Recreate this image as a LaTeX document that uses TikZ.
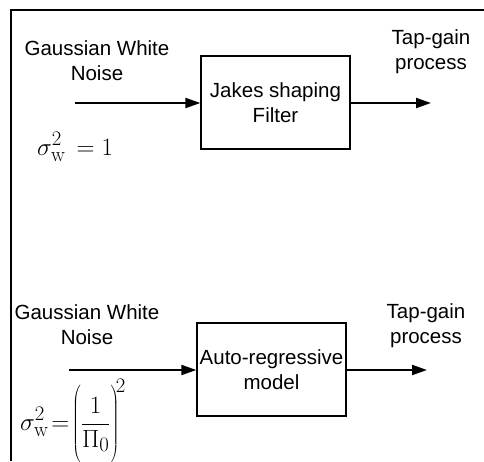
\documentclass[tikz,border=0pt]{standalone}
\usepackage[no-math]{fontspec}
\setmainfont{Liberation Sans}
\usetikzlibrary{arrows.meta}
\begin{document}
\begin{tikzpicture}[x=1pt,y=1pt,
  lbl/.style={align=center,font=\fontsize{20.5}{25}\selectfont,inner sep=0pt},
  blockbox/.style={draw,line width=1.3pt,minimum width=149pt,minimum height=93pt,inner sep=0pt,align=center,font=\fontsize{20.5}{25}\selectfont},
  sig/.style={arrows={-Triangle[length=15pt,width=10pt]},line width=2pt},
  formula/.style={inner sep=0pt,font=\fontsize{29}{33}\selectfont}]
\useasboundingbox (0,0) rectangle (484,-461);
% frame
\draw[line width=1.5pt] (11,-461) -- (11,-10) -- (484,-10);
% top chain
\node[blockbox] (box1) at (275.5,-102.5) {Jakes shaping\\Filter};
\coordinate (in1) at (75,-103);
\coordinate (out1) at (431,-103);
\draw[sig] (in1) -- (in1 -| box1.west);
\draw[sig] (box1.east |- out1) -- (out1);
\node[lbl] (gwn1) at (97,-61) {Gaussian White\\Noise};
\node[lbl] (tap1) at (431,-52) {Tap-gain\\process};
\node[formula,anchor=base west] (f1) at (37,-155) {$\sigma_{\mathrm{w}}^{2}\,=1$};
% bottom chain
\node[blockbox] (box2) at (271.5,-369.5) {Auto-regressive\\model};
\coordinate (in2) at (69,-370);
\coordinate (out2) at (427,-370);
\draw[sig] (in2) -- (in2 -| box2.west);
\draw[sig] (box2.east |- out2) -- (out2);
\node[lbl] (gwn2) at (87,-325) {Gaussian White\\Noise};
\node[lbl] (tap2) at (426,-325.5) {Tap-gain\\process};
\node[formula,anchor=base west] (f2) at (20,-430) {$\sigma_{\mathrm{w}}^{2}\!=\!\left(\vrule height 44pt depth 34pt width 0pt\displaystyle\frac{1}{\Pi_{0}}\right)^{\!2}$};
\end{tikzpicture}
\end{document}
